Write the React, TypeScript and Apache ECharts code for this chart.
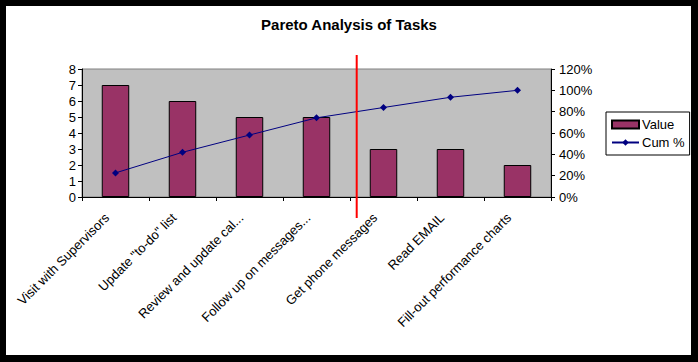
import React, { useEffect, useRef } from "react";
import * as echarts from "echarts";

const categories = [
  "Visit with Supervisors",
  "Update \"to-do\" list",
  "Review and update cal...",
  "Follow up on messages...",
  "Get phone messages",
  "Read EMAIL",
  "Fill-out performance charts",
];
const values = [7, 6, 5, 5, 3, 3, 2];
const cumPercent = [22.6, 41.9, 58.1, 74.2, 83.9, 93.5, 100];
const leftTicks = { min: 0, max: 8, interval: 1 };
const rightTicks = { min: 0, max: 120, interval: 20 };

const FONT = "Arial, 'Liberation Sans', sans-serif";

export default function App() {
  const ref = useRef<HTMLDivElement>(null);
  useEffect(() => {
    document.body.style.margin = "0";
    const chart = echarts.init(ref.current!, null, { renderer: "svg" });
    chart.setOption({
      animation: false,
      backgroundColor: "#ffffff",
      title: {
        text: "Pareto Analysis of Tasks",
        left: "center",
        top: 12,
        textStyle: { fontFamily: FONT, fontSize: 15, fontWeight: "bold", color: "#000" },
      },
      grid: {
        left: 82,
        top: 69,
        width: 469,
        height: 128,
        show: true,
        backgroundColor: "#C0C0C0",
        borderColor: "#808080",
        borderWidth: 1,
      },
      legend: {
        orient: "vertical",
        left: 606,
        top: 112,
        padding: [6, 5, 6, 5],
        itemGap: 5,
        itemWidth: 27,
        itemHeight: 8,
        borderColor: "#000",
        borderWidth: 1,
        backgroundColor: "#fff",
        textStyle: { fontFamily: FONT, fontSize: 13, color: "#000", padding: [0, 0, 0, -2] },
        data: [
          { name: "Value", icon: "rect" },
          { name: "Cum %" },
        ],
      },
      xAxis: {
        type: "category",
        data: categories,
        axisLine: { show: true, lineStyle: { color: "#000", width: 1 } },
        axisTick: { show: true, length: 4, interval: 0, lineStyle: { color: "#000" } },
        axisLabel: {
          interval: 0,
          rotate: 45,
          margin: 10,
          padding: [0, 12, 0, 0],
          fontFamily: FONT,
          fontSize: 13,
          color: "#000",
        },
        splitLine: { show: false },
      },
      yAxis: [
        {
          type: "value",
          min: leftTicks.min,
          max: leftTicks.max,
          interval: leftTicks.interval,
          axisLine: { show: true, lineStyle: { color: "#000" } },
          axisTick: { show: true, length: 4, lineStyle: { color: "#000" } },
          axisLabel: { margin: 6, fontFamily: FONT, fontSize: 13, color: "#000" },
          splitLine: { show: false },
        },
        {
          type: "value",
          position: "right",
          min: rightTicks.min,
          max: rightTicks.max,
          interval: rightTicks.interval,
          axisLine: { show: true, lineStyle: { color: "#000" } },
          axisTick: { show: true, length: 4, lineStyle: { color: "#000" } },
          axisLabel: { margin: 8, formatter: "{value}%", fontFamily: FONT, fontSize: 13, color: "#000" },
          splitLine: { show: false },
        },
      ],
      series: [
        {
          name: "Value",
          type: "bar",
          data: values,
          barWidth: "41%",
          itemStyle: { color: "#993366", borderColor: "#000", borderWidth: 1 },
        },
        {
          name: "Cum %",
          type: "line",
          yAxisIndex: 1,
          data: cumPercent,
          symbol: "diamond",
          symbolSize: 7,
          lineStyle: { color: "#000080", width: 1 },
          itemStyle: { color: "#000080" },
        },
      ],
      graphic: [
        {
          type: "line",
          z: 100,
          silent: true,
          shape: { x1: 356.7, y1: 55, x2: 356.7, y2: 218 },
          style: { stroke: "#ff0000", lineWidth: 2 },
        },
        {
          type: "rect",
          z: 101,
          silent: true,
          shape: { x: 0, y: 0, width: 697, height: 361 },
          style: { fill: "none", stroke: "#000", lineWidth: 12 },
        },
      ],
    });
    return () => chart.dispose();
  }, []);
  return <div ref={ref} style={{ width: 698, height: 362 }} />;
}
